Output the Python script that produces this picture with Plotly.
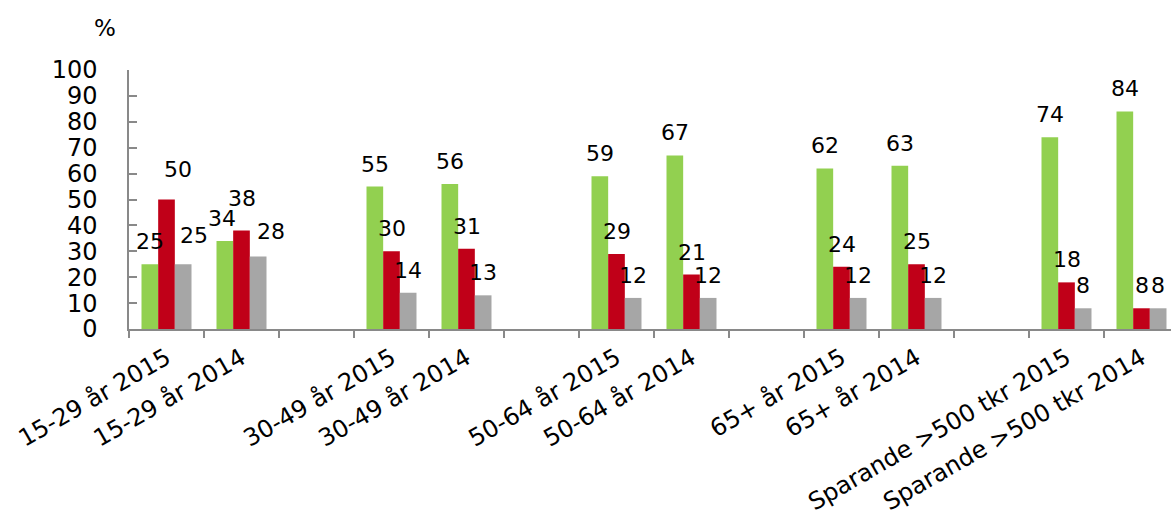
import plotly.graph_objects as go

categories = ["15-29 år 2015", "15-29 år 2014", " ",
              "30-49 år 2015", "30-49 år 2014", "  ",
              "50-64 år 2015", "50-64 år 2014", "   ",
              "65+ år 2015", "65+ år 2014", "    ",
              "Sparande >500 tkr 2015", "Sparande >500 tkr 2014"]
green_vals = [25, 34, None, 55, 56, None, 59, 67, None, 62, 63, None, 74, 84]
red_vals = [50, 38, None, 30, 31, None, 29, 21, None, 24, 25, None, 18, 8]
gray_vals = [25, 28, None, 14, 13, None, 12, 12, None, 12, 12, None, 8, 8]
y_ticks = list(range(0, 101, 10))

series = [("Grön", green_vals, "#92D050"),
          ("Röd", red_vals, "#C00018"),
          ("Grå", gray_vals, "#A6A6A6")]

# manual label nudges (px) as in the reference, to avoid overlaps
nudges = {(1, 0): (11, 8), (2, 0): (11, 6), (0, 1): (-3, 0),
          (1, 1): (0, 10), (2, 1): (13, 2)}

FONT = "Verdana, DejaVu Sans, sans-serif"
fig = go.Figure()
for name, vals, col in series:
    fig.add_trace(go.Bar(x=categories, y=vals, name=name,
                         marker=dict(color=col, line=dict(width=0))))

slot_px = 75
bar_px = slot_px * (2 / 3) / 3
for i, (name, vals, col) in enumerate(series):
    for j, (c, v) in enumerate(zip(categories, vals)):
        if v is None:
            continue
        dx, dy = nudges.get((i, j), (0, 0))
        fig.add_annotation(x=c, y=v, xref="x", yref="y", text=str(v),
                           showarrow=False, yanchor="bottom",
                           xshift=(i - 1) * bar_px + dx, yshift=8 + dy,
                           font=dict(family=FONT, size=22, color="#000"))

fig.add_annotation(x=(105 - 129) / 1042, y=1 + (70 - 28) / 259,
                   xref="paper", yref="paper", text="%",
                   xanchor="center", yanchor="middle",
                   showarrow=False, font=dict(family=FONT, size=23, color="#000"))

fig.update_layout(
    width=1171, height=516,
    margin=dict(l=129, r=0, t=70, b=187),
    barmode="group", bargap=1 / 3, bargroupgap=0,
    showlegend=False,
    plot_bgcolor="white", paper_bgcolor="white",
    font=dict(family=FONT, size=22, color="#000"),
)
fig.update_xaxes(type="category", range=[-0.5, -0.5 + 1042 / slot_px],
                 tickson="boundaries", ticks="outside", ticklen=7,
                 tickcolor="#898989", tickwidth=1.5,
                 showline=True, linecolor="#898989", linewidth=1.5,
                 showgrid=False, tickangle=-30, ticklabelstandoff=4,
                 tickfont=dict(family=FONT, size=24, color="#000"))
fig.update_yaxes(range=[0, 100], tickvals=y_ticks, ticks="inside", ticklen=8,
                 tickcolor="#898989", tickwidth=1.5,
                 showline=True, linecolor="#898989", linewidth=1.5,
                 showgrid=False, zeroline=False, ticklabelstandoff=25,
                 tickfont=dict(family=FONT, size=24, color="#000"))

fig.write_html("out.html")
